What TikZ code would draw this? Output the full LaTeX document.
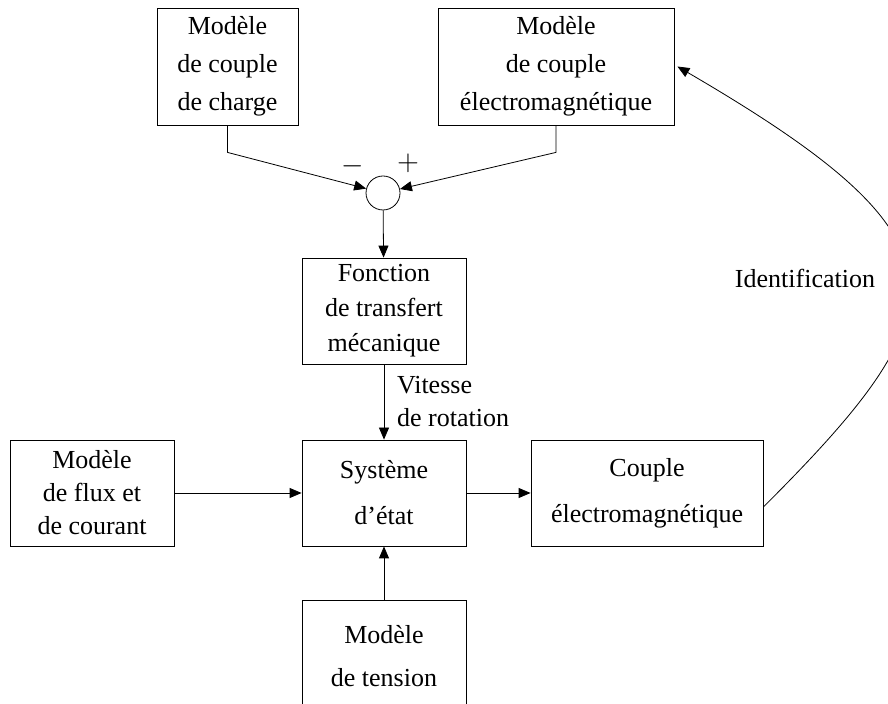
\documentclass[tikz,border=0pt]{standalone}
\usepackage{fontspec}
\setmainfont{Liberation Serif}
\usetikzlibrary{arrows.meta}

\begin{document}
\begin{tikzpicture}[x=0.5pt,y=-0.5pt,
  bloc/.style={draw,rectangle,inner sep=0pt,align=center,
    font=\fontsize{13}{19}\selectfont},
  fleche/.style={-{Triangle[length=6pt,width=5pt]}},
  texte/.style={inner sep=0pt,font=\fontsize{13}{19}\selectfont}]
\useasboundingbox (0,0) rectangle (888,704);
\clip (0,0) rectangle (888,704);
% modeles de couple
\node[bloc,minimum width=70.5pt,minimum height=58.5pt] (charge) at (227.5,66.5) {Modèle\\de couple\\de charge};
\node[bloc,minimum width=118pt,minimum height=58.5pt] (cem) at (556,66.5) {Modèle\\de couple\\électromagnétique};
\node[draw,circle,minimum size=17pt,inner sep=0pt] (somme) at (383,193) {};
\node[texte,font=\fontsize{15}{19}\selectfont] (moins) at (353,166) {$-$};
\node[texte,font=\fontsize{15}{19}\selectfont] (plus) at (408,163) {$+$};
% chaine principale
\node[bloc,minimum width=82pt,minimum height=53pt] (meca) at (384,311) {Fonction\\[-1.5pt]de transfert\\[-1.5pt]mécanique};
\node[bloc,minimum width=82pt,minimum height=53pt] (etat) at (384,493) {Système\\[4pt]d’état};
\node[bloc,minimum width=82pt,minimum height=53pt] (flux) at (92,493) {Modèle\\[-2.5pt]de flux et\\[-2.5pt]de courant};
\node[bloc,minimum width=116pt,minimum height=53pt] (couple) at (647,493) {Couple\\[4pt]électromagnétique};
\node[bloc,minimum width=82pt,minimum height=56pt] (tension) at (384,656) {Modèle\\[2.5pt]de tension};
\node[texte] (ident) at (805,278) {Identification};
% liaisons
\draw[fleche] (charge.south) -- ++(0,27) -- (somme);
\draw[fleche] (cem.south) -- ++(0,27) -- (somme);
\draw[fleche] (somme) -- (meca);
\draw[fleche] (meca) -- node[right,xshift=3pt,align=left,font=\fontsize{13}{19}\selectfont] {Vitesse\\[-2.5pt]de rotation} (etat);
\draw[fleche] (flux) -- (etat);
\draw[fleche] (etat) -- (couple);
\draw[fleche] (tension) -- (etat);
\draw[fleche] ([yshift=-7pt]couple.east) .. controls +(200,-200) and +(300,175) .. ([xshift=1.5pt]cem.east);
\end{tikzpicture}
\end{document}
